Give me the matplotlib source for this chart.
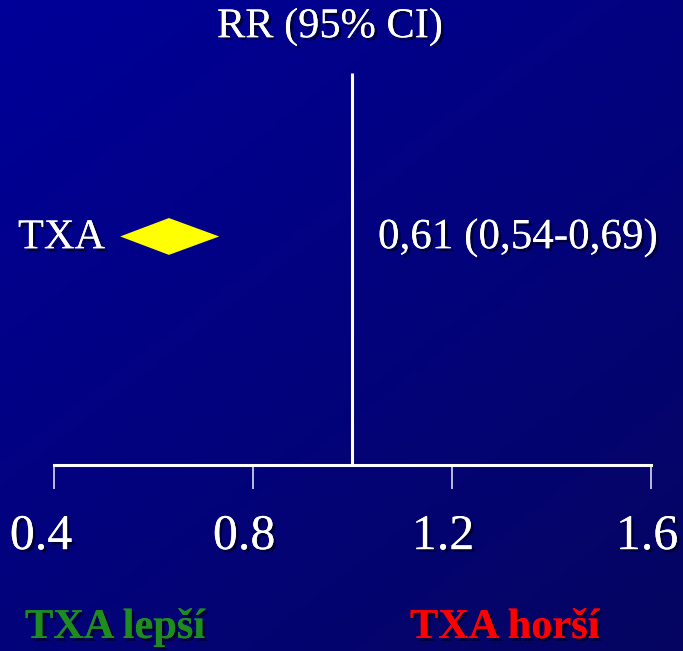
import numpy as np
import matplotlib
matplotlib.use("Agg")
import matplotlib.pyplot as plt
import matplotlib.patheffects as pe
from matplotlib.transforms import ScaledTranslation

# ---- data ----
x_ticks = [0.4, 0.8, 1.2, 1.6]
x_tick_labels = ["0.4", "0.8", "1.2", "1.6"]
null_value = 1.0
study_label = "TXA"
diamond_low = 0.533      # as drawn in the picture
diamond_mid = 0.631
diamond_high = 0.732
estimate_text = "0,61 (0,54-0,69)"
title_text = "RR (95% CI)"
favours_left = "TXA lepší"
favours_right = "TXA horší"

W, H = 683, 651
fig = plt.figure(figsize=(W / 100, H / 100), dpi=100)

# gradient background
bg = fig.add_axes([0, 0, 1, 1], zorder=-10)
yy, xx = np.mgrid[0:1:200j, 0:1:200j]
t = (xx * 0.45 + yy * 0.55)
top = np.array([0.0, 0.0, 0.60])
bot = np.array([0.02, 0.02, 0.38])
img = top[None, None, :] * (1 - t[..., None]) + bot[None, None, :] * t[..., None]
bg.imshow(img, aspect="auto", extent=[0, 1, 0, 1], origin="upper")
bg.axis("off")

shadow = [pe.withSimplePatchShadow(offset=(2, -2), shadow_rgbFace=(0, 0, 0.15), alpha=0.8), pe.Normal()]
serif = ["Liberation Serif", "DejaVu Serif"]

# main axes: x from pixel 54 to 651, y from pixel 465 (axis) to 73 (top of null line)
left_px, right_px = 54, 651
bottom_px, top_px = 465, 73
ax = fig.add_axes([left_px / W, (H - bottom_px) / H, (right_px - left_px) / W, (bottom_px - top_px) / H])
ax.set_facecolor("none")
ax.set_xlim(0.4, 1.6)
ax.set_ylim(0, 1)
for s in ["top", "right", "left"]:
    ax.spines[s].set_visible(False)
ax.spines["bottom"].set_color("white")
ax.spines["bottom"].set_linewidth(2.2)
ax.set_yticks([])
ax.set_xticks(x_ticks)
ax.set_xticklabels(x_tick_labels, fontsize=36, family=serif, color="white")
ax.tick_params(axis="x", direction="out", length=17, width=1.2, color=(0.85, 0.85, 0.95), pad=18)
for lab, dx in zip(ax.get_xticklabels(), [-13, -9, -9, -4]):
    lab.set_transform(lab.get_transform() + ScaledTranslation(dx / 100, 0, fig.dpi_scale_trans))
    lab.set_path_effects(shadow)

# null line
ax.plot([null_value, null_value], [0, 1], color="white", lw=2.2, solid_capstyle="butt", clip_on=False)

# diamond
row_y = 0.583
half_h = 0.047
ax.fill([diamond_low, diamond_mid, diamond_high, diamond_mid],
        [row_y, row_y + half_h, row_y, row_y - half_h], color="#FFFF00", lw=0)

# texts
fig.text(330 / W, 1 - 27 / H, title_text, ha="center", va="center", fontsize=30.5, family=serif,
         color="white", path_effects=shadow)
fig.text(18 / W, 1 - 238 / H, study_label, ha="left", va="center", fontsize=30.5, family=serif,
         color="white", path_effects=shadow)
fig.text(378 / W, 1 - 238 / H, estimate_text, ha="left", va="center", fontsize=31, family=serif,
         color="white", path_effects=shadow)
fig.text(25 / W, 1 - 628 / H, favours_left, ha="left", va="center", fontsize=30.5, family=serif,
         weight="bold", color="#1E8C1E", path_effects=shadow)
fig.text(410 / W, 1 - 628 / H, favours_right, ha="left", va="center", fontsize=30.5, family=serif,
         weight="bold", color="#FF0000", path_effects=shadow)

fig.savefig("out.png", dpi=100)
